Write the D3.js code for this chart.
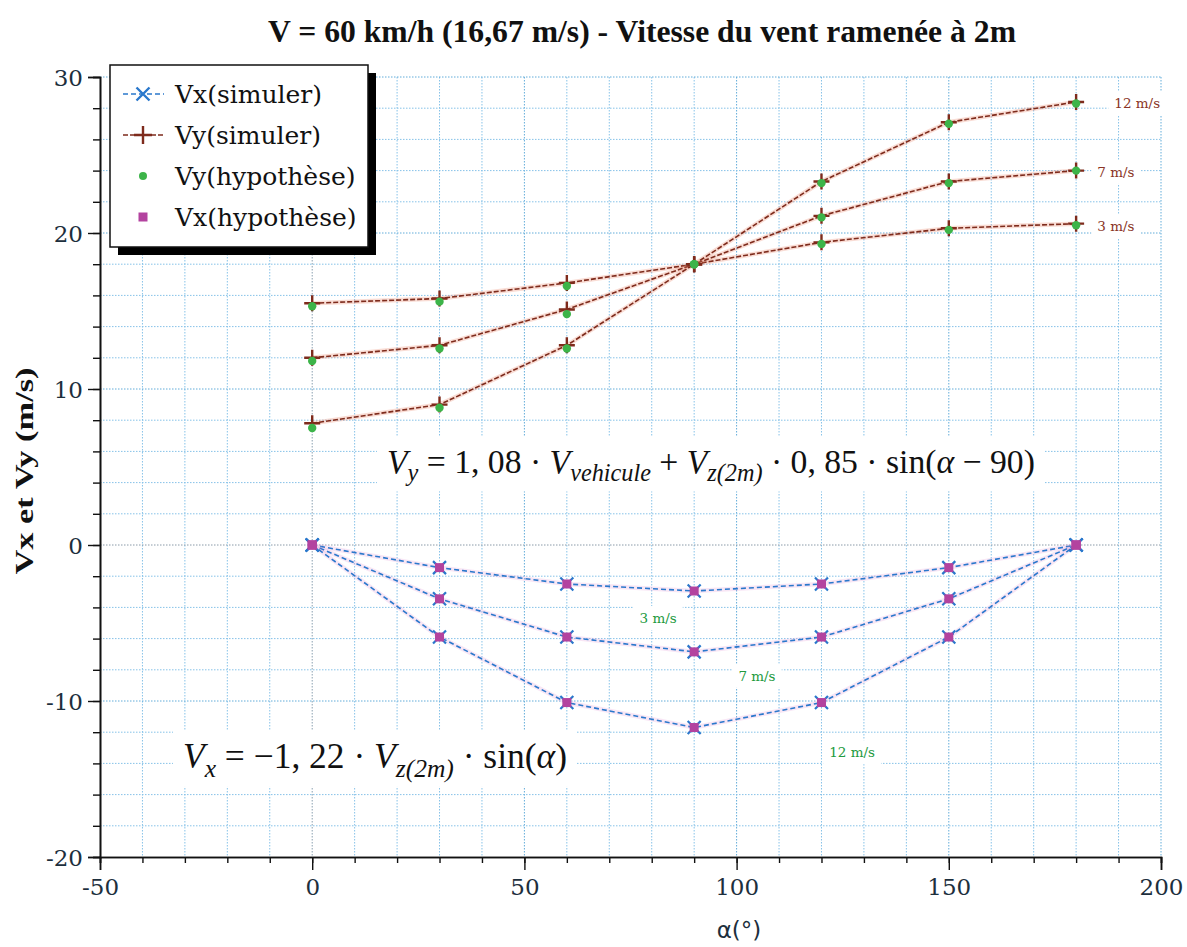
<!DOCTYPE html>
<html><head><meta charset="utf-8">
<script src="https://cdn.jsdelivr.net/npm/d3@7"></script>
<style>body{margin:0;background:#fff}svg{display:block}</style>
</head><body>
<svg id="c" width="1187" height="947"></svg>
<script>
// ---- data ----
const angles = [0, 30, 60, 90, 120, 150, 180];
const windLabels = ["3 m/s", "7 m/s", "12 m/s"];
const vySim3  = [15.5, 15.8, 16.8, 18.0, 19.4, 20.3, 20.6];
const vySim7  = [12.0, 12.8, 15.1, 18.0, 21.1, 23.3, 24.0];
const vySim12 = [7.8, 9.0, 12.8, 18.0, 23.3, 27.1, 28.4];
const vyHyp3  = [15.3, 15.6, 16.6, 18.0, 19.3, 20.2, 20.5];
const vyHyp7  = [11.8, 12.6, 14.8, 18.0, 21.0, 23.2, 24.0];
const vyHyp12 = [7.5, 8.8, 12.6, 18.0, 23.2, 27.0, 28.3];
const vxSim3  = [0, -1.45, -2.5, -2.95, -2.5, -1.45, 0];
const vxSim7  = [0, -3.45, -5.9, -6.85, -5.9, -3.45, 0];
const vxSim12 = [0, -5.9, -10.1, -11.7, -10.1, -5.9, 0];
const vxHyp3  = [0, -1.45, -2.5, -2.95, -2.5, -1.45, 0];
const vxHyp7  = [0, -3.45, -5.9, -6.85, -5.9, -3.45, 0];
const vxHyp12 = [0, -5.9, -10.1, -11.7, -10.1, -5.9, 0];
const xTicks = [-50, 0, 50, 100, 150, 200];
const yTicks = [-20, -10, 0, 10, 20, 30];
const legendNames = ["Vx(simuler)", "Vy(simuler)", "Vy(hypothèse)", "Vx(hypothèse)"];
// label anchors in data units
const vyLabelX = [185, 185, 189];
const vyLabelY = [20.4, 23.9, 28.3];
const vxLabelX = [81.5, 104.8, 127.2];
const vxLabelY = [-4.7, -8.4, -13.3];

const titleText = "V = 60 km/h (16,67 m/s) - Vitesse du vent ramenée à 2m";

// ---- drawing ----
const svg = d3.select("#c");
const W = 1187, H = 947;
const x = d3.scaleLinear().domain([-50, 200]).range([100, 1161]);
const y = d3.scaleLinear().domain([-20, 30]).range([857, 77]);
const serif = "'DejaVu Serif', serif";
const lserif = "'Liberation Serif', serif";

svg.append("rect").attr("width", W).attr("height", H).attr("fill", "#fff");

// grid
const grid = svg.append("g");
d3.range(-40, 201, 10).forEach(v => {
  const major = v % 50 === 0;
  grid.append("line").attr("x1", x(v)).attr("x2", x(v)).attr("y1", y(30)).attr("y2", y(-20))
    .attr("stroke", v === 0 ? "#8aa0b0" : (major ? "#62acd9" : "#86c2e8"))
    .attr("stroke-width", 1).attr("stroke-dasharray", "1.5,1.5");
});
d3.range(-18, 31, 2).forEach(v => {
  const major = v % 10 === 0;
  grid.append("line").attr("x1", x(-50)).attr("x2", x(200)).attr("y1", y(v)).attr("y2", y(v))
    .attr("stroke", v === 0 ? "#8a9aa8" : (major ? "#62acd9" : "#86c2e8"))
    .attr("stroke-width", 1).attr("stroke-dasharray", "1.5,1.5");
});

// axes
const axCol = "#1d2f3d";
const fmt = d => String(d);
const gx = svg.append("g").attr("transform", `translate(0,${y(-20)})`);
gx.call(d3.axisBottom(x).tickValues(d3.range(-50, 201, 10)).tickSize(6).tickFormat(""));
const gx2 = svg.append("g").attr("transform", `translate(0,${y(-20)})`);
gx2.call(d3.axisBottom(x).tickValues(xTicks).tickSize(13).tickPadding(8).tickFormat(fmt));
const gy = svg.append("g").attr("transform", `translate(${x(-50)},0)`);
gy.call(d3.axisLeft(y).tickValues(d3.range(-20, 31, 2)).tickSize(7).tickFormat(""));
const gy2 = svg.append("g").attr("transform", `translate(${x(-50)},0)`);
gy2.call(d3.axisLeft(y).tickValues(yTicks).tickSize(12).tickPadding(5).tickFormat(fmt));
[gx, gx2, gy, gy2].forEach(g => {
  g.attr("font-family", null);
  g.selectAll("path").attr("stroke", "#111").attr("stroke-width", 1.6);
  g.selectAll("line").attr("stroke", "#111").attr("stroke-width", 1.4);
  g.selectAll("text").attr("fill", axCol).style("font-family", serif).style("font-size", "23px");
});
gx2.selectAll("text").attr("dy", "0.75em");
gy2.selectAll("text").attr("dy", "0.36em");

// line generator
const line = d3.line().x((d, i) => x(angles[i])).y(d => y(d));

const vySim = [vySim3, vySim7, vySim12];
const vyHyp = [vyHyp3, vyHyp7, vyHyp12];
const vxSim = [vxSim3, vxSim7, vxSim12];
const vxHyp = [vxHyp3, vxHyp7, vxHyp12];

const brown = "#7e2b1c", blue = "#2a78cc", green = "#3cb449", magenta = "#b3439f";

// Vy lines
vySim.forEach(s => {
  svg.append("path").attr("d", line(s)).attr("fill", "none").attr("stroke", "rgba(235,130,100,0.28)").attr("stroke-width", 4.5);
  svg.append("path").attr("d", line(s)).attr("fill", "none").attr("stroke", brown).attr("stroke-width", 1.6).attr("stroke-dasharray", "5,2");
});
// Vx lines
vxSim.forEach(s => {
  svg.append("path").attr("d", line(s)).attr("fill", "none").attr("stroke", "rgba(225,140,210,0.22)").attr("stroke-width", 4.5);
  svg.append("path").attr("d", line(s)).attr("fill", "none").attr("stroke", blue).attr("stroke-width", 1.6).attr("stroke-dasharray", "5,3");
});

function plus(g, cx, cy, r, col, w) {
  g.append("path").attr("d", `M${cx - r},${cy}H${cx + r}M${cx},${cy - r}V${cy + r}`).attr("stroke", col).attr("stroke-width", w).attr("fill", "none");
}
function cross(g, cx, cy, r, col, w) {
  g.append("path").attr("d", `M${cx - r},${cy - r}L${cx + r},${cy + r}M${cx - r},${cy + r}L${cx + r},${cy - r}`).attr("stroke", col).attr("stroke-width", w).attr("fill", "none");
}

const mk = svg.append("g");
vySim.forEach(s => s.forEach((v, i) => plus(mk, x(angles[i]), y(v), 8, brown, 2.4)));
vyHyp.forEach(s => s.forEach((v, i) => mk.append("circle").attr("cx", x(angles[i])).attr("cy", y(v)).attr("r", 4.2).attr("fill", green)));
vxSim.forEach(s => s.forEach((v, i) => cross(mk, x(angles[i]), y(v), 6.5, blue, 2.2)));
vxHyp.forEach(s => s.forEach((v, i) => mk.append("rect").attr("x", x(angles[i]) - 4.5).attr("y", y(v) - 4.5).attr("width", 9).attr("height", 9).attr("fill", magenta)));

// labels with white background
function boxedText(txt, px, py, col, size, anchor) {
  const g = svg.append("g");
  const r = g.append("rect").attr("fill", "#fff");
  const t = g.append("text").attr("x", px).attr("y", py).attr("text-anchor", anchor || "start")
    .attr("dy", "0.35em").attr("fill", col).style("font-family", serif).style("font-size", size + "px").text(txt);
  const b = t.node().getBBox();
  r.attr("x", b.x - 6).attr("y", b.y - 4).attr("width", b.width + 12).attr("height", b.height + 8);
  return g;
}
windLabels.forEach((l, i) => boxedText(l, x(vyLabelX[i]), y(vyLabelY[i]), "#8a3426", 13.5, "start"));
windLabels.forEach((l, i) => boxedText(l, x(vxLabelX[i]), y(vxLabelY[i]), "#229a3e", 13.5, "middle"));

// formulas: built from tspans, font size fitted to the target width
function formula(parts, left, baseline, size, targetW) {
  const g = svg.append("g");
  const r = g.append("rect").attr("fill", "#fff");
  const t = g.append("text").attr("x", left).attr("y", baseline)
    .style("font-family", lserif).attr("fill", "#111");
  function build(sz) {
    t.selectAll("tspan").remove();
    t.style("font-size", sz + "px");
    parts.forEach(p => {
      const ts = t.append("tspan").text(p.t);
      if (p.i) ts.style("font-style", "italic");
      if (p.sub) ts.style("font-size", (sz * 0.72) + "px").attr("dy", sz * 0.25);
      if (p.back) ts.attr("dy", -sz * 0.25);
    });
  }
  build(size);
  const w0 = t.node().getComputedTextLength();
  build(size * targetW / w0);
  const b = t.node().getBBox();
  r.attr("x", b.x - 10).attr("y", b.y - 6).attr("width", b.width + 20).attr("height", b.height + 10);
}
formula([
  {t: "V", i: 1}, {t: "y", i: 1, sub: 1}, {t: " = 1, 08 · ", back: 1}, {t: "V", i: 1}, {t: "vehicule", i: 1, sub: 1},
  {t: " + ", back: 1}, {t: "V", i: 1}, {t: "z(2m)", i: 1, sub: 1}, {t: " · 0, 85 · sin(", back: 1}, {t: "α", i: 1}, {t: " − 90)"}
], 387, 473, 36, 648);
formula([
  {t: "V", i: 1}, {t: "x", i: 1, sub: 1}, {t: " = −1, 22 · ", back: 1}, {t: "V", i: 1}, {t: "z(2m)", i: 1, sub: 1},
  {t: " · sin(", back: 1}, {t: "α", i: 1}, {t: ")"}
], 183, 768, 31, 384);

// legend
const lg = svg.append("g");
const lx = 110, ly = 65, lw = 258, lh = 182;
lg.append("rect").attr("x", lx + 8).attr("y", ly + 8).attr("width", lw).attr("height", lh).attr("fill", "#000");
lg.append("rect").attr("x", lx).attr("y", ly).attr("width", lw).attr("height", lh).attr("fill", "#fff").attr("stroke", "#111").attr("stroke-width", 1.5);
legendNames.forEach((n, i) => {
  const cy = 94 + i * 41;
  lg.append("text").attr("x", 175).attr("y", cy).attr("dy", "0.35em").attr("fill", "#111")
    .style("font-family", serif).style("font-size", "25px").text(n);
  const cx = 143;
  if (i === 0) {
    lg.append("line").attr("x1", 123).attr("x2", 164).attr("y1", cy).attr("y2", cy).attr("stroke", blue).attr("stroke-width", 1.6).attr("stroke-dasharray", "5,3");
    cross(lg, cx, cy, 6.5, blue, 2.4);
  } else if (i === 1) {
    lg.append("line").attr("x1", 123).attr("x2", 164).attr("y1", cy).attr("y2", cy).attr("stroke", brown).attr("stroke-width", 1.6).attr("stroke-dasharray", "5,2");
    plus(lg, cx, cy, 9, brown, 2.4);
  } else if (i === 2) {
    lg.append("circle").attr("cx", cx).attr("cy", cy).attr("r", 4).attr("fill", green);
  } else {
    lg.append("rect").attr("x", cx - 4.5).attr("y", cy - 4.5).attr("width", 9).attr("height", 9).attr("fill", magenta);
  }
});

// title
svg.append("text").attr("x", 642).attr("y", 42).attr("text-anchor", "middle").attr("fill", "#111")
  .style("font-family", lserif).style("font-weight", "bold").style("font-size", "31px")
  .attr("textLength", 748).attr("lengthAdjust", "spacingAndGlyphs").text(titleText);

// axis titles
svg.append("text").attr("transform", `translate(33,471) rotate(-90)`).attr("text-anchor", "middle").attr("fill", "#111")
  .style("font-family", lserif).style("font-weight", "bold").style("font-size", "26px")
  .attr("textLength", 207).attr("lengthAdjust", "spacingAndGlyphs").text("Vx et Vy (m/s)");
svg.append("text").attr("x", 739).attr("y", 938).attr("text-anchor", "middle").attr("fill", axCol)
  .style("font-family", "'DejaVu Sans', sans-serif").style("font-size", "23px").text("α(°)");
</script>
</body></html>
